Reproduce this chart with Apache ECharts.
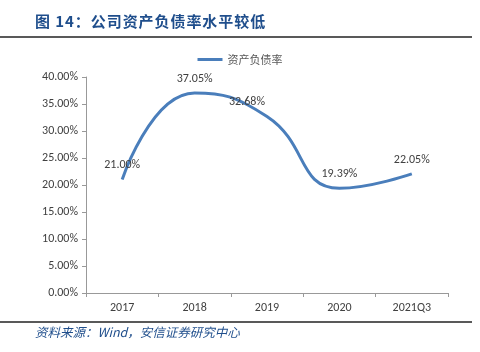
<!DOCTYPE html>
<html><head><meta charset="utf-8">
<script src="https://cdn.jsdelivr.net/npm/echarts@6/dist/echarts.min.js"></script>
<style>html,body{margin:0;padding:0;background:#fff}#c{width:480px;height:352px}</style>
</head><body><div id="c"></div>
<script>
const categories = ['2017', '2018', '2019', '2020', '2021Q3'];
const debtRatio = [21.00, 37.05, 32.68, 19.39, 22.05];
const labelOffsets = [[0, 0], [0, 0], [-20, 0], [0, 0], [0, 0]];
const yTicks = [0, 5, 10, 15, 20, 25, 30, 35, 40];
const seriesName = '资产负债率';
const titleText = '图 14：公司资产负债率水平较低';
const sourceText = '资料来源：Wind，安信证券研究中心';

const spaced = s => s.split('').join('\u200A');
const labelBase = {show: true, position: 'top', distance: 8, color: '#404040', fontSize: 12,
  fontFamily: 'Calibri, "Liberation Sans", sans-serif'};
const chart = echarts.init(document.getElementById('c'), null, {renderer: 'canvas'});
chart.setOption({
  animation: false,
  backgroundColor: '#fff',
  graphic: [
    {type: 'text', left: 35, top: 14, style: {text: spaced(titleText), font: 'bold 15px "Noto Sans CJK SC"', fill: '#1F4E8C'}},
    {type: 'line', shape: {x1: 0, y1: 37, x2: 472, y2: 37}, style: {stroke: '#222', lineWidth: 1.5}},
    {type: 'line', shape: {x1: 0, y1: 322, x2: 472, y2: 322}, style: {stroke: '#222', lineWidth: 1.5}},
    {type: 'text', left: 35, top: 326, style: {text: sourceText, font: 'italic 12.5px "Noto Sans CJK SC"', fill: '#1F4E8C'}}
  ],
  legend: {
    data: [{name: seriesName, icon: 'rect', itemStyle: {color: '#4A7EBB', opacity: 1}}], top: 49, left: 'center',
    itemWidth: 25, itemHeight: 3,
    textStyle: {fontSize: 11, color: '#595959', fontFamily: '"Noto Sans CJK SC"'}
  },
  grid: {left: 86, right: 32, top: 77, bottom: 59},
  xAxis: {
    type: 'category', data: categories, boundaryGap: true,
    axisLine: {lineStyle: {color: '#999', width: 1}},
    axisTick: {show: true, alignWithLabel: false, lineStyle: {color: '#999'}, length: 4},
    axisLabel: {color: '#404040', fontSize: 12, margin: 9, fontFamily: 'Calibri, "Liberation Sans", sans-serif'}
  },
  yAxis: {
    type: 'value', min: 0, max: 40, interval: 5,
    splitLine: {show: false},
    axisLine: {show: true, lineStyle: {color: '#999'}},
    axisTick: {show: true, inside: false, length: 4, lineStyle: {color: '#999'}},
    axisLabel: {color: '#404040', fontSize: 12, margin: 8, fontFamily: 'Calibri, "Liberation Sans", sans-serif',
      formatter: v => v.toFixed(2) + '%'}
  },
  series: [{
    name: seriesName, type: 'line', smooth: 0.5,
    data: debtRatio.map((v, i) => ({value: v, label: Object.assign({}, labelBase, {offset: labelOffsets[i], formatter: v.toFixed(2) + '%'})})),
    symbol: 'circle', symbolSize: 0.5, showSymbol: true, showAllSymbol: true,
    lineStyle: {color: '#4A7EBB', width: 3},
    itemStyle: {color: '#4A7EBB'},
    label: labelBase
  }]
});
</script></body></html>
